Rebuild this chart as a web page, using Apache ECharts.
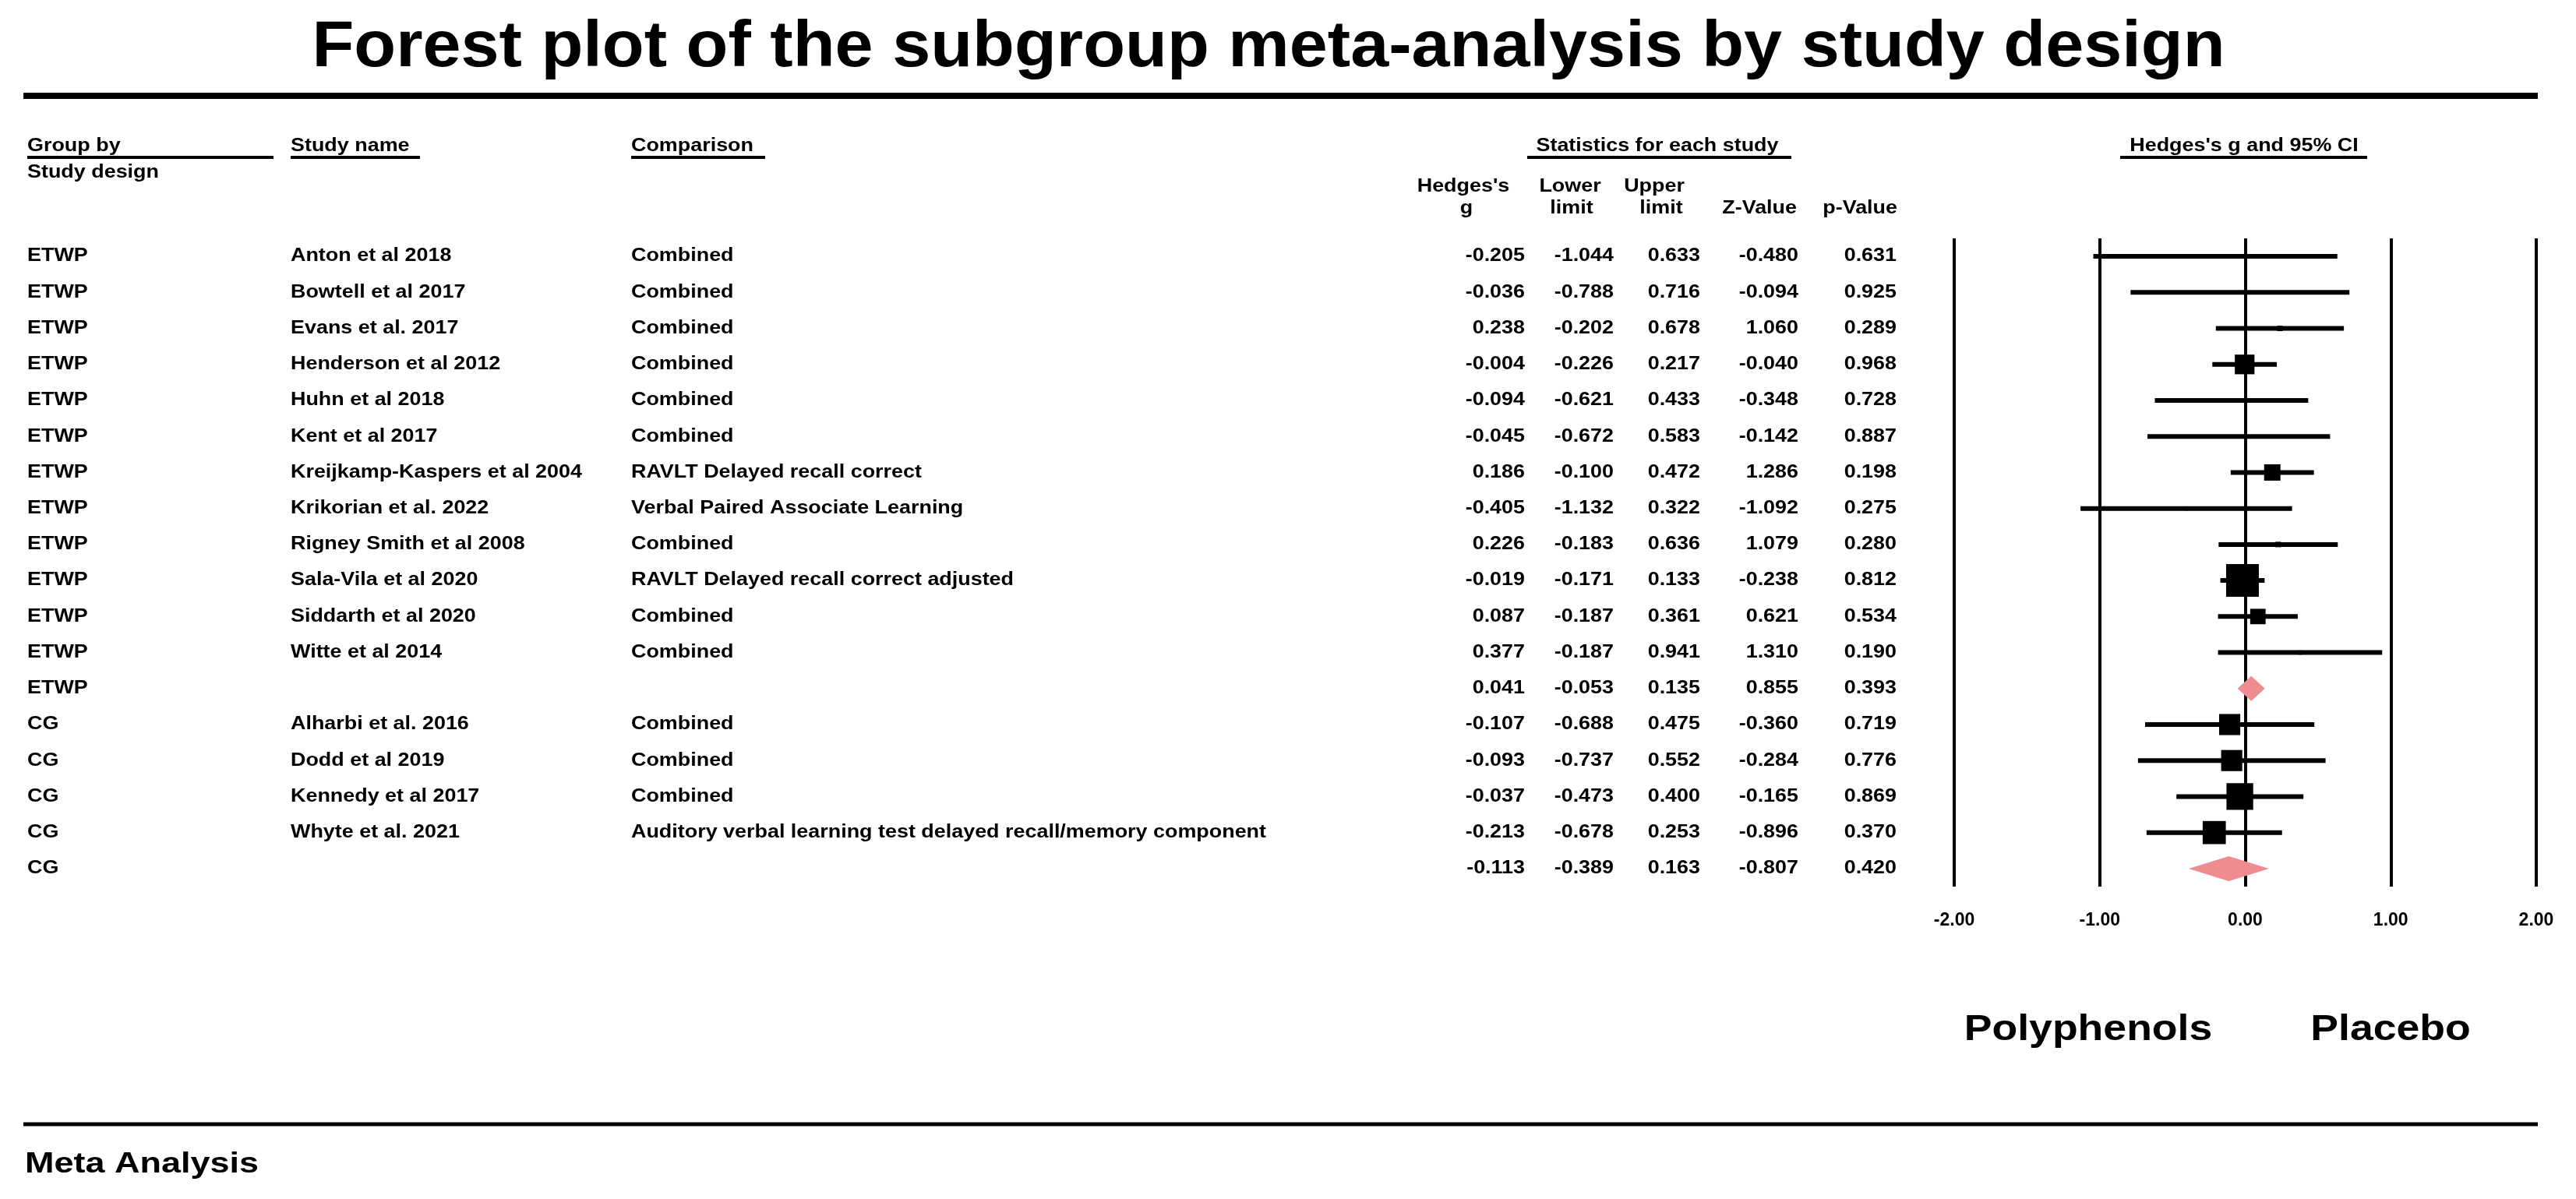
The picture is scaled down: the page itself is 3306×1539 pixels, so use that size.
<!DOCTYPE html>
<html>
<head>
<meta charset="utf-8">
<title>Forest plot of the subgroup meta-analysis by study design</title>
<script src="https://cdn.jsdelivr.net/npm/echarts@6/dist/echarts.min.js"></script>
<style>
  html, body { margin: 0; padding: 0; background: #fff; }
  #chart { width: 3306px; height: 1539px; }
</style>
</head>
<body>
<div id="chart"></div>
<script>
// data
const groups = ['ETWP', 'ETWP', 'ETWP', 'ETWP', 'ETWP', 'ETWP', 'ETWP', 'ETWP', 'ETWP', 'ETWP', 'ETWP', 'ETWP', 'ETWP',
                'CG', 'CG', 'CG', 'CG', 'CG'];
const studyNames = ['Anton et al 2018', 'Bowtell et al 2017', 'Evans et al. 2017', 'Henderson et al 2012',
                    'Huhn et al 2018', 'Kent et al 2017', 'Kreijkamp-Kaspers et al 2004', 'Krikorian et al. 2022',
                    'Rigney Smith et al 2008', 'Sala-Vila et al 2020', 'Siddarth et al 2020', 'Witte et al 2014', '',
                    'Alharbi et al. 2016', 'Dodd et al 2019', 'Kennedy et al 2017', 'Whyte et al. 2021', ''];
const comparisons = ['Combined', 'Combined', 'Combined', 'Combined', 'Combined', 'Combined',
                     'RAVLT Delayed recall correct', 'Verbal Paired Associate Learning', 'Combined',
                     'RAVLT Delayed recall correct adjusted', 'Combined', 'Combined', '',
                     'Combined', 'Combined', 'Combined',
                     'Auditory verbal learning test delayed recall/memory component', ''];
const hedgesG    = [-0.205, -0.036, 0.238, -0.004, -0.094, -0.045, 0.186, -0.405, 0.226, -0.019, 0.087, 0.377, 0.041,
                    -0.107, -0.093, -0.037, -0.213, -0.113];
const lowerLimit = [-1.044, -0.788, -0.202, -0.226, -0.621, -0.672, -0.100, -1.132, -0.183, -0.171, -0.187, -0.187, -0.053,
                    -0.688, -0.737, -0.473, -0.678, -0.389];
const upperLimit = [0.633, 0.716, 0.678, 0.217, 0.433, 0.583, 0.472, 0.322, 0.636, 0.133, 0.361, 0.941, 0.135,
                    0.475, 0.552, 0.400, 0.253, 0.163];
const zValue     = [-0.480, -0.094, 1.060, -0.040, -0.348, -0.142, 1.286, -1.092, 1.079, -0.238, 0.621, 1.310, 0.855,
                    -0.360, -0.284, -0.165, -0.896, -0.807];
const pValue     = [0.631, 0.925, 0.289, 0.968, 0.728, 0.887, 0.198, 0.275, 0.280, 0.812, 0.534, 0.190, 0.393,
                    0.719, 0.776, 0.869, 0.370, 0.420];
// relative weight of each study (box size)
const boxWeight  = [0.3, 0.5, 1, 13, 0.6, 0.4, 9, 0.6, 1, 36, 8, 0.6, 0, 15, 15, 24, 18, 0];
const axisTicks  = [-2, -1, 0, 1, 2];

const FONT = '"Liberation Sans", Arial, sans-serif';
const STRETCH = 1.17;   // text in the original is a bit wider than Arial
const rowIdx = groups.map((g, i) => i);

var dom = document.getElementById('chart');
var myChart = echarts.init(dom, null, { renderer: 'canvas' });

function txt(text, x, y, size, align, stretch) {
    return {
        type: 'text', x: x, y: y, scaleX: stretch || STRETCH,
        style: { text: text, font: 'bold ' + size + 'px ' + FONT, fill: '#000', align: align || 'left', verticalAlign: 'middle' }
    };
}
function bar(x1, x2, y, h) {
    return { type: 'rect', shape: { x: x1, y: y - h / 2, width: x2 - x1, height: h }, style: { fill: '#000' } };
}

// column layout
const colX = { group: 35, name: 373, comp: 810, g: 1957, lo: 2071, hi: 2182, z: 2308, p: 2434 };

const graphics = [
    txt('Forest plot of the subgroup meta-analysis by study design', 1628, 62, 84, 'center', 1.05),
    bar(30, 3257, 123, 8),
    txt('Group by', colX.group, 188, 23),
    bar(35, 351, 202, 4),
    txt('Study design', colX.group, 222, 23),
    txt('Study name', colX.name, 188, 23),
    bar(373, 539, 202, 4),
    txt('Comparison', colX.comp, 188, 23),
    bar(810, 982, 202, 4),
    txt('Statistics for each study', 2127, 188, 23, 'center'),
    bar(1960, 2299, 202, 4),
    txt("Hedges's g and 95% CI", 2880, 188, 23, 'center'),
    bar(2721, 3038, 202, 4),
    txt("Hedges's", 1878, 240, 23, 'center'),
    txt('g', 1882, 268, 23, 'center'),
    txt('Lower', 2015, 240, 23, 'center'),
    txt('limit', 2017, 268, 23, 'center'),
    txt('Upper', 2123, 240, 23, 'center'),
    txt('limit', 2132, 268, 23, 'center'),
    txt('Z-Value', 2306, 268, 23, 'right'),
    txt('p-Value', 2435, 268, 23, 'right'),
    txt('Polyphenols', 2680, 1322, 47, 'center', 1.14),
    txt('Placebo', 3068, 1322, 47, 'center', 1.14),
    bar(30, 3257, 1443, 5),
    txt('Meta Analysis', 32, 1495, 36, 'left', 1.25)
];

const option = {
    backgroundColor: '#fff',
    animation: false,
    graphic: graphics,
    grid: { left: 2508, right: 51, top: 306, bottom: 401 },
    xAxis: {
        type: 'value',
        min: axisTicks[0],
        max: axisTicks[axisTicks.length - 1],
        interval: 1,
        axisLine: { show: false },
        axisTick: { show: false },
        splitLine: { show: true, lineStyle: { color: '#000', width: 4 } },
        axisLabel: {
            fontFamily: FONT, fontWeight: 'bold', fontSize: 23, color: '#000', margin: 32,
            formatter: v => v.toFixed(2)
        }
    },
    yAxis: { type: 'value', min: -0.5, max: rowIdx.length - 0.5, inverse: true, show: false },
    series: [
        {
            // left part of the plot: the table of every study
            type: 'custom',
            clip: false,
            silent: true,
            data: rowIdx.map(i => [0, i]),
            encode: { x: 0, y: 1 },
            renderItem: function (params, api) {
                const i = api.value(1);
                const y = api.coord([0, i])[1];
                const f = 23;
                const kids = [
                    txt(groups[i], colX.group, y, f),
                    txt(studyNames[i], colX.name, y, f),
                    txt(comparisons[i], colX.comp, y, f),
                    txt(hedgesG[i].toFixed(3), colX.g, y, f, 'right'),
                    txt(lowerLimit[i].toFixed(3), colX.lo, y, f, 'right'),
                    txt(upperLimit[i].toFixed(3), colX.hi, y, f, 'right'),
                    txt(zValue[i].toFixed(3), colX.z, y, f, 'right'),
                    txt(pValue[i].toFixed(3), colX.p, y, f, 'right')
                ];
                return { type: 'group', children: kids };
            }
        },
        {
            // confidence intervals, study boxes and subgroup diamonds
            type: 'custom',
            clip: false,
            silent: true,
            data: rowIdx.map(i => [hedgesG[i], i, lowerLimit[i], upperLimit[i], boxWeight[i], studyNames[i] === '' ? 1 : 0]),
            encode: { x: [0, 2, 3], y: 1 },
            renderItem: function (params, api) {
                const row = api.value(1);
                const c = api.coord([api.value(0), row]);
                const lo = api.coord([api.value(2), row]);
                const hi = api.coord([api.value(3), row]);
                if (api.value(5) === 1) {
                    return {
                        type: 'polygon',
                        shape: { points: [[lo[0], c[1]], [c[0], c[1] - 16], [hi[0], c[1]], [c[0], c[1] + 16]] },
                        style: { fill: '#EE8C92' }
                    };
                }
                const s = Math.max(4, 7 * Math.sqrt(api.value(4)));
                return {
                    type: 'group',
                    children: [
                        { type: 'line', shape: { x1: lo[0], y1: c[1], x2: hi[0], y2: c[1] }, style: { stroke: '#000', lineWidth: 6 } },
                        { type: 'rect', shape: { x: c[0] - s / 2, y: c[1] - s / 2, width: s, height: s }, style: { fill: '#000' } }
                    ]
                };
            }
        }
    ]
};

if (option && typeof option === 'object') {
    myChart.setOption(option);
}

window.addEventListener('resize', myChart.resize);
</script>
</body>
</html>
